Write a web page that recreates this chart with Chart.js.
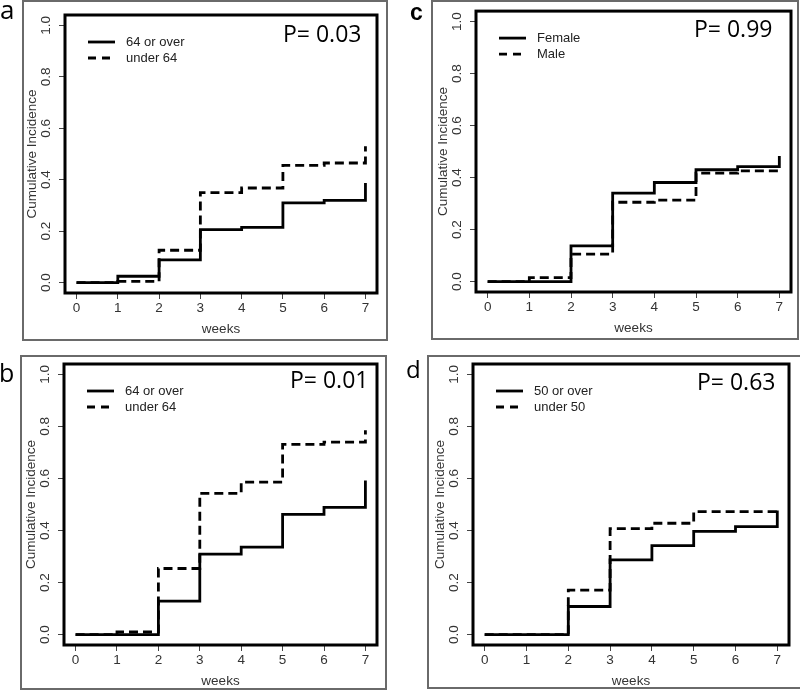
<!DOCTYPE html>
<html>
<head>
<meta charset="utf-8">
<script src="https://cdn.jsdelivr.net/npm/chart.js@4"></script>
<style>
  body { margin: 0; background: #fff; width: 800px; height: 693px; position: relative; overflow: hidden; }
  canvas { position: absolute; }
</style>
</head>
<body>
<canvas id="chartA" width="400" height="346" style="left:0;top:0"></canvas>
<canvas id="chartC" width="400" height="346" style="left:400px;top:0"></canvas>
<canvas id="chartB" width="400" height="347" style="left:0;top:346px"></canvas>
<canvas id="chartD" width="400" height="347" style="left:400px;top:346px"></canvas>
<script>
// shared axes
const weeks = [0, 1, 2, 3, 4, 5, 6, 7];
const yTicks = [0, 0.2, 0.4, 0.6, 0.8, 1.0];

// panel a
const aNames = ['64 or over', 'under 64'];
const aSolid = [0, 0.025, 0.089, 0.206, 0.215, 0.31, 0.32, 0.387];
const aDashed = [0, 0.005, 0.126, 0.35, 0.368, 0.456, 0.465, 0.53];
const aP = 'P= 0.03';

// panel b
const bNames = ['64 or over', 'under 64'];
const bSolid = [0, 0, 0.129, 0.309, 0.336, 0.462, 0.489, 0.592];
const bDashed = [0, 0.01, 0.254, 0.543, 0.586, 0.731, 0.74, 0.785];
const bP = 'P= 0.01';

// panel c
const cNames = ['Female', 'Male'];
const cSolid = [0, 0, 0.137, 0.34, 0.381, 0.43, 0.442, 0.483];
const cDashed = [0, 0.015, 0.106, 0.305, 0.313, 0.417, 0.426, 0.426];
const cP = 'P= 0.99';

// panel d
const dNames = ['50 or over', 'under 50'];
const dSolid = [0, 0, 0.108, 0.287, 0.342, 0.397, 0.415, 0.477];
const dDashed = [0, 0, 0.171, 0.407, 0.428, 0.473, 0.473, 0.473];
const dP = 'P= 0.63';

const sans = '"Liberation Sans", Arial, sans-serif';

function makePanel(id, p) {
  const ctx = document.getElementById(id).getContext('2d');
  const W = ctx.canvas.width, H = ctx.canvas.height;

  // grey frame, letter, plot box, legend, p value
  const frame = {
    id: 'frame',
    afterDraw(chart) {
      const c = chart.ctx, a = chart.chartArea;
      c.save();
      c.strokeStyle = '#6a6a6a';
      c.lineWidth = 2;
      c.strokeRect(p.outer[0], p.outer[1], p.outer[2] - p.outer[0], p.outer[3] - p.outer[1]);

      c.fillStyle = '#000';
      c.font = p.letterFont;
      c.textBaseline = 'alphabetic';
      c.fillText(p.letter, p.letterX, p.letterY);

      c.strokeStyle = '#000';
      c.lineWidth = 3;
      c.strokeRect(a.left, a.top, a.right - a.left, a.bottom - a.top);

      c.font = '13px ' + sans;
      c.textBaseline = 'middle';
      p.names.forEach((n, i) => {
        const y = a.top + 27 + i * 16;
        c.setLineDash(i ? [8, 6] : []);
        c.lineWidth = 2.8;
        c.beginPath();
        c.moveTo(a.left + 23, y);
        c.lineTo(a.left + 50, y);
        c.stroke();
        c.setLineDash([]);
        c.fillStyle = '#222';
        c.fillText(n, a.left + 61, y);
      });

      c.fillStyle = '#000';
      c.font = '23px "Open Sans", sans-serif';
      c.textBaseline = 'alphabetic';
      c.fillText(p.pText, p.pX, p.pY);
      c.restore();
    }
  };

  const tickFont = { family: sans, size: 13.5 };

  return new Chart(ctx, {
    type: 'line',
    data: {
      datasets: [
        {
          label: p.names[0],
          data: weeks.map((w, i) => ({ x: w, y: p.solid[i] })),
          borderColor: '#000', borderWidth: 2.8, stepped: true, pointRadius: 0, fill: false
        },
        {
          label: p.names[1],
          data: weeks.map((w, i) => ({ x: w, y: p.dashed[i] })),
          borderColor: '#000', borderWidth: 2.8, borderDash: [9, 5], stepped: true, pointRadius: 0, fill: false
        }
      ]
    },
    options: {
      responsive: false,
      animation: false,
      devicePixelRatio: 1,
      layout: {
        padding: { left: p.plot[0] - 50, top: p.plot[1], right: W - p.plot[2], bottom: H - p.plot[3] - 45 }
      },
      plugins: { legend: { display: false }, tooltip: { enabled: false } },
      scales: {
        x: {
          type: 'linear', min: -0.28, max: 7.28,
          afterBuildTicks: s => { s.ticks = weeks.map(v => ({ value: v })); },
          afterFit: s => { s.height = 45; },
          grid: { drawOnChartArea: false, tickLength: 6, color: '#444' },
          border: { display: false },
          ticks: { padding: 1, color: '#333', font: tickFont, maxRotation: 0, autoSkip: false, callback: v => String(v) },
          title: { display: true, text: 'weeks', color: '#333', font: tickFont, padding: { top: 0, bottom: 1 } }
        },
        y: {
          type: 'linear', min: -0.04, max: 1.04,
          afterBuildTicks: s => { s.ticks = yTicks.map(v => ({ value: v })); },
          afterFit: s => { s.width = 50; },
          grid: { drawOnChartArea: false, tickLength: 6, color: '#444' },
          border: { display: false },
          ticks: { padding: 3, color: '#333', font: tickFont, minRotation: 90, maxRotation: 90, crossAlign: 'center', autoSkip: false, callback: v => v.toFixed(1) },
          title: { display: true, text: 'Cumulative Incidence', color: '#333', font: tickFont, padding: { top: 9, bottom: 0 } }
        }
      }
    },
    plugins: [frame]
  });
}

makePanel('chartA', {
  names: aNames, solid: aSolid, dashed: aDashed, pText: aP,
  outer: [23, 1, 387, 340], plot: [65, 15, 377, 293],
  letter: 'a', letterFont: '26px "Open Sans", sans-serif', letterX: 0, letterY: 19,
  pX: 283, pY: 42
});
makePanel('chartC', {
  names: cNames, solid: cSolid, dashed: cDashed, pText: cP,
  outer: [32, 1, 398, 339], plot: [76, 11, 391, 292],
  letter: 'c', letterFont: 'bold 23px ' + sans, letterX: 10, letterY: 20,
  pX: 294, pY: 37
});
makePanel('chartB', {
  names: bNames, solid: bSolid, dashed: bDashed, pText: bP,
  outer: [21, 10, 386, 343], plot: [64, 18, 377, 299],
  letter: 'b', letterFont: '25px "Open Sans", sans-serif', letterX: -1, letterY: 36,
  pX: 290, pY: 42
});
makePanel('chartD', {
  names: dNames, solid: dSolid, dashed: dDashed, pText: dP,
  outer: [28, 10, 402, 342], plot: [73, 18, 389, 299],
  letter: 'd', letterFont: '24px "Open Sans", sans-serif', letterX: 6, letterY: 32,
  pX: 297, pY: 44
});
</script>
</body>
</html>
